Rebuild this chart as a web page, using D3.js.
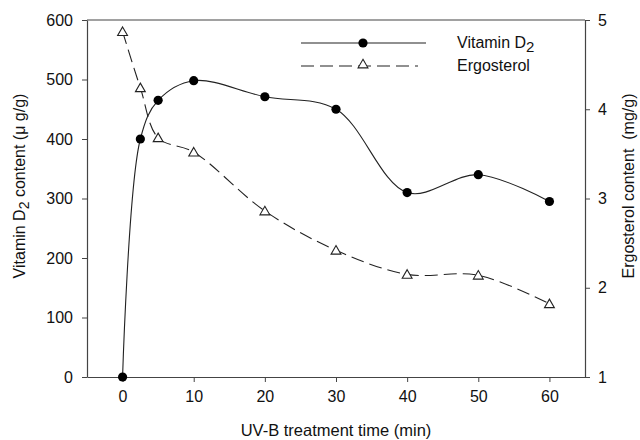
<!doctype html>
<html>
<head>
  <script src="https://d3js.org/d3.v7.min.js"></script>
  <style>
    body { margin: 0; background: #fff; }
    text { font-family: "Liberation Sans", Arial, sans-serif; fill: #111; }
  </style>
</head>
<body>
<svg width="640" height="440"></svg>
<script>
  // data
  var times = [0, 2.5, 5, 10, 20, 30, 40, 50, 60];
  var vitaminD2 = [0, 400, 465, 498, 471, 450, 310, 340, 295];
  var ergosterol = [4.87, 4.24, 3.68, 3.52, 2.86, 2.42, 2.15, 2.14, 1.82];
  var xTicks = [0, 10, 20, 30, 40, 50, 60];
  var leftTicks = [0, 100, 200, 300, 400, 500, 600];
  var rightTicks = [1, 2, 3, 4, 5];

  var svg = d3.select("svg");
  var pl = 87, pr = 585, pt = 20, pb = 377;

  var x = d3.scaleLinear().domain([-5, 65]).range([pl, pr]);
  var yL = d3.scaleLinear().domain([0, 600]).range([pb, pt]);
  var yR = d3.scaleLinear().domain([1, 5]).range([pb, pt]);

  var axisColor = "#444";

  // top frame line
  svg.append("line")
    .attr("x1", pl).attr("x2", pr).attr("y1", pt).attr("y2", pt)
    .attr("stroke", axisColor).attr("stroke-width", 1.2);

  function styleAxis(g) {
    g.select(".domain").attr("stroke", axisColor).attr("stroke-width", 1.2);
    g.selectAll(".tick line").attr("stroke", axisColor);
    g.selectAll(".tick text").attr("font-size", "16px").attr("fill", "#111")
      .attr("font-family", "Liberation Sans, Arial, sans-serif");
  }

  svg.append("g")
    .attr("transform", "translate(0," + pb + ")")
    .call(d3.axisBottom(x).tickValues(xTicks).tickSize(5).tickPadding(9).tickSizeOuter(0))
    .call(styleAxis);

  svg.append("g")
    .attr("transform", "translate(" + pl + ",0)")
    .call(d3.axisLeft(yL).tickValues(leftTicks).tickSize(5).tickPadding(9).tickSizeOuter(0))
    .call(styleAxis);

  svg.append("g")
    .attr("transform", "translate(" + pr + ",0)")
    .call(d3.axisRight(yR).tickValues(rightTicks).tickFormat(d3.format("d"))
      .tickSize(5).tickPadding(8).tickSizeOuter(0))
    .call(styleAxis);

  // axis titles
  svg.append("text")
    .attr("x", (pl + pr) / 2).attr("y", 436)
    .attr("text-anchor", "middle").attr("font-size", "16.5px")
    .text("UV-B treatment time (min)");

  var lt = svg.append("text")
    .attr("transform", "translate(25,186) rotate(-90)")
    .attr("text-anchor", "middle").attr("font-size", "16px");
  lt.append("tspan").text("Vitamin D");
  lt.append("tspan").attr("dy", 4).attr("font-size", "14px").text("2");
  lt.append("tspan").attr("dy", -4).text(" content (\u03bc g/g)");

  svg.append("text")
    .attr("transform", "translate(634,186) rotate(-90)")
    .attr("text-anchor", "middle").attr("font-size", "16px")
    .attr("xml:space", "preserve")
    .text("Ergosterol content  (mg/g)");

  var pts = times.map(function(t, i) { return { t: t, v: vitaminD2[i], e: ergosterol[i] }; });

  var lineV = d3.line().curve(d3.curveCatmullRom.alpha(0.5))
    .x(function(d) { return x(d.t); }).y(function(d) { return yL(d.v); });
  var lineE = d3.line().curve(d3.curveCatmullRom.alpha(0.5))
    .x(function(d) { return x(d.t); }).y(function(d) { return yR(d.e); });

  svg.append("path").datum(pts).attr("d", lineE)
    .attr("fill", "none").attr("stroke", "#222").attr("stroke-width", 1.1)
    .attr("stroke-dasharray", "13,6");

  svg.append("path").datum(pts).attr("d", lineV)
    .attr("fill", "none").attr("stroke", "#222").attr("stroke-width", 1.1);

  var tri = d3.symbol().type(d3.symbolTriangle).size(42);

  svg.selectAll(".tri").data(pts).enter().append("path")
    .attr("transform", function(d) { return "translate(" + x(d.t) + "," + (yR(d.e) + 1) + ")"; })
    .attr("d", tri)
    .attr("fill", "#fff").attr("stroke", "#222").attr("stroke-width", 1.1);

  svg.selectAll(".dot").data(pts).enter().append("circle")
    .attr("cx", function(d) { return x(d.t); })
    .attr("cy", function(d) { return yL(d.v); })
    .attr("r", 4.6).attr("fill", "#000");

  // legend
  var lg = svg.append("g");
  lg.append("line").attr("x1", 301).attr("x2", 426).attr("y1", 43).attr("y2", 43)
    .attr("stroke", "#222").attr("stroke-width", 1.1);
  lg.append("circle").attr("cx", 363).attr("cy", 43).attr("r", 4.6).attr("fill", "#000");
  lg.append("line").attr("x1", 301).attr("x2", 418).attr("y1", 66).attr("y2", 66)
    .attr("stroke", "#222").attr("stroke-width", 1.1).attr("stroke-dasharray", "13,6");
  lg.append("path").attr("transform", "translate(363,65)").attr("d", tri)
    .attr("fill", "#fff").attr("stroke", "#222").attr("stroke-width", 1.1);

  var t1 = lg.append("text").attr("x", 457).attr("y", 48).attr("font-size", "16px");
  t1.append("tspan").text("Vitamin D");
  t1.append("tspan").attr("dy", 4).attr("font-size", "15px").text("2");
  lg.append("text").attr("x", 457).attr("y", 71).attr("font-size", "16px").text("Ergosterol");
</script>
</body>
</html>
